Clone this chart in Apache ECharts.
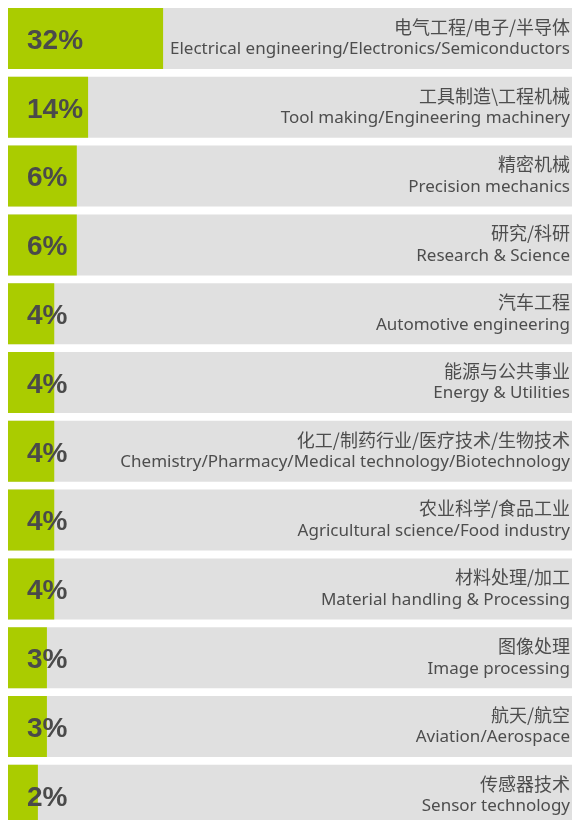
<!DOCTYPE html>
<html>
<head>
<meta charset="utf-8">
<script src="https://cdn.jsdelivr.net/npm/echarts@6/dist/echarts.min.js"></script>
<style>
  html, body { margin: 0; padding: 0; background: #fff; }
  #main { width: 572px; height: 820px; }
</style>
</head>
<body>
<div id="main"></div>
<script>
// 行业名称（中文 / 英文）
var namesCn = ['电气工程/电子/半导体', '工具制造\\工程机械', '精密机械', '研究/科研', '汽车工程', '能源与公共事业',
    '化工/制药行业/医疗技术/生物技术', '农业科学/食品工业', '材料处理/加工', '图像处理', '航天/航空', '传感器技术'];
var namesEn = ['Electrical engineering/Electronics/Semiconductors', 'Tool making/Engineering machinery',
    'Precision mechanics', 'Research & Science', 'Automotive engineering', 'Energy & Utilities',
    'Chemistry/Pharmacy/Medical technology/Biotechnology', 'Agricultural science/Food industry',
    'Material handling & Processing', 'Image processing', 'Aviation/Aerospace', 'Sensor technology'];
// 百分比标签
var shares = [32, 14, 6, 6, 4, 4, 4, 4, 4, 3, 3, 2];
// 绿色条长度（占整行宽度的百分比，从图上量出）
var barLengths = [27.5, 14.2, 12.2, 12.2, 8.2, 8.2, 8.2, 8.2, 8.2, 6.9, 6.9, 5.3];

var chart = echarts.init(document.getElementById('main'));

var cats = [];
for (var i = 0; i < namesCn.length; i++) {
    cats.push(i);
}

var option = {
    animation: false,
    grid: { left: 8, right: 0, top: 4.1, height: 825.6, outerBoundsMode: 'none', containLabel: false },
    xAxis: {
        type: 'value', min: 0, max: 100,
        show: false
    },
    yAxis: {
        type: 'category',
        data: cats,
        inverse: true,
        position: 'right',
        axisLine: { show: false },
        axisTick: { show: false },
        axisLabel: {
            inside: true,
            margin: 2,
            formatter: function (v, idx) {
                return '{cn|' + namesCn[idx] + '}\n{en|' + namesEn[idx] + '}';
            },
            rich: {
                cn: { fontFamily: 'Noto Sans CJK SC', fontSize: 18, color: '#4d4d4d', lineHeight: 22, align: 'right', padding: [0, 0, 1, 0] },
                en: { fontFamily: 'Noto Sans', fontSize: 17, color: '#4d4d4d', lineHeight: 22, align: 'right' }
            }
        },
        z: 10
    },
    series: [{
        type: 'bar',
        data: barLengths,
        barWidth: 61,
        showBackground: true,
        backgroundStyle: { color: '#e0e0e0' },
        itemStyle: { color: '#aacc00' },
        label: {
            show: true,
            position: [19, 33],
            verticalAlign: 'middle',
            fontFamily: 'Liberation Sans',
            fontWeight: 'bold',
            fontSize: 28,
            color: '#4a4a4a',
            formatter: function (p) {
                return shares[p.dataIndex] + '%';
            }
        }
    }]
};

chart.setOption(option);
</script>
</body>
</html>
